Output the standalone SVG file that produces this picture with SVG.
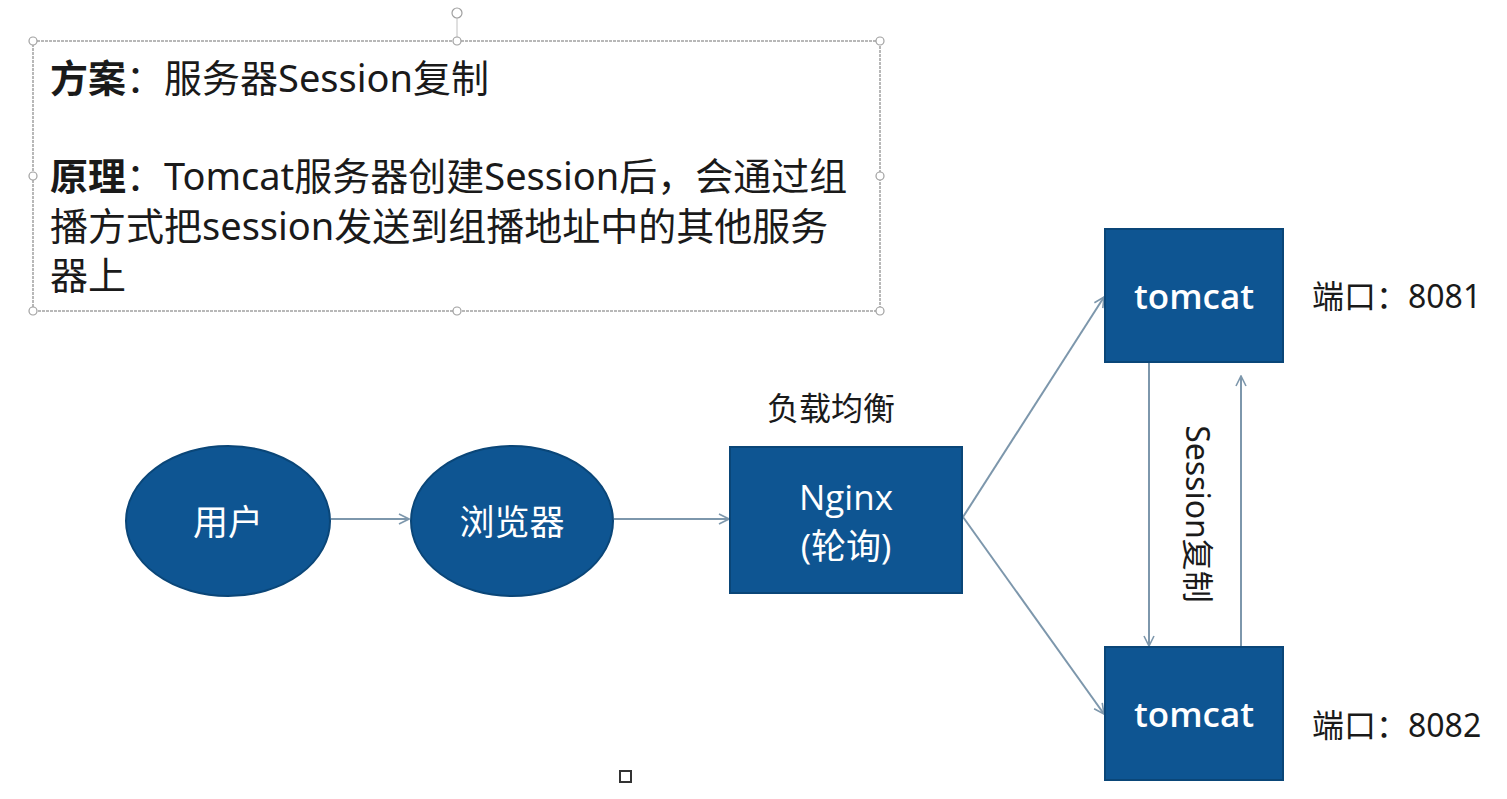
<svg xmlns="http://www.w3.org/2000/svg" width="1507" height="799" viewBox="0 0 1507 799">
<defs>
<style>
.node{fill:#0e5592;stroke:#0a4678;stroke-width:2}
.nt{fill:#ffffff;font-family:"Open Sans","Noto Sans","Noto Sans CJK SC",sans-serif;font-size:35px;text-anchor:middle;dominant-baseline:central}
.tx{fill:#1a1a1a;font-family:"Noto Sans","Noto Sans CJK SC",sans-serif;font-size:38px}
.lbl{fill:#1a1a1a;font-family:"Noto Sans","Noto Sans CJK SC",sans-serif;font-size:32px}
.conn{stroke:#7d97ac;stroke-width:2;fill:none;marker-end:url(#ah)}
.frame{fill:none;stroke:#b8b8b8;stroke-width:2;stroke-dasharray:3 1}
.h{fill:#ffffff;stroke:#a0a0a0;stroke-width:1.2}
</style>
<marker id="ah" viewBox="0 0 12 12" refX="11" refY="6" markerWidth="12" markerHeight="12" markerUnits="userSpaceOnUse" orient="auto">
<path d="M1,1 L11,6 L1,11" fill="none" stroke="#7d97ac" stroke-width="1.6"/>
</marker>
</defs>
<rect width="1507" height="799" fill="#ffffff"/>
<g id="textbox">
<rect class="frame" x="33" y="41" width="847" height="270"/>
<line x1="457" y1="18" x2="457" y2="41" stroke="#c0c0c0" stroke-width="1"/>
<circle class="h" cx="457" cy="13" r="5"/>
<circle class="h" cx="33" cy="41" r="4"/><circle class="h" cx="457" cy="41" r="4"/><circle class="h" cx="880" cy="41" r="4"/>
<circle class="h" cx="33" cy="176" r="4"/><circle class="h" cx="880" cy="176" r="4"/>
<circle class="h" cx="33" cy="311" r="4"/><circle class="h" cx="457" cy="311" r="4"/><circle class="h" cx="880" cy="311" r="4"/>
<text class="tx" x="50" y="92"><tspan font-weight="bold">方案</tspan>：服务器Session复制</text>
<text class="tx" x="50" y="190"><tspan font-weight="bold">原理</tspan>：Tomcat服务器创建Session后，会通过组</text>
<text class="tx" x="50" y="240">播方式把session发送到组播地址中的其他服务</text>
<text class="tx" x="50" y="289">器上</text>
</g>
<g id="connectors">
<line class="conn" x1="331" y1="519" x2="409" y2="519"/>
<line class="conn" x1="614" y1="519" x2="729" y2="519"/>
<line class="conn" x1="963" y1="517" x2="1104" y2="297"/>
<line class="conn" x1="963" y1="517" x2="1104" y2="714"/>
<line class="conn" x1="1149" y1="363" x2="1149" y2="646"/>
<line class="conn" x1="1241" y1="646" x2="1241" y2="376"/>
<text class="lbl" font-size="36" transform="translate(1198,514) rotate(90)" text-anchor="middle" dominant-baseline="central">Session复制</text>
</g>
<g id="user">
<ellipse class="node" cx="228" cy="521" rx="102" ry="75"/>
<text class="nt" x="228" y="521">用户</text>
</g>
<g id="browser">
<ellipse class="node" cx="512" cy="521" rx="101" ry="75"/>
<text class="nt" x="512" y="521">浏览器</text>
</g>
<g id="nginx">
<text class="lbl" x="831" y="407" font-size="34" text-anchor="middle" dominant-baseline="central">负载均衡</text>
<rect class="node" x="730" y="447" width="232" height="146"/>
<text class="nt" x="846" y="496">Nginx</text>
<text class="nt" x="846" y="545">(轮询)</text>
</g>
<g id="tomcat1">
<rect class="node" x="1105" y="229" width="178" height="133"/>
<text class="nt" x="1194" y="295" font-size="32" font-weight="600">tomcat</text>
<text class="lbl" x="1312" y="295" dominant-baseline="central">端口：8081</text>
</g>
<g id="tomcat2">
<rect class="node" x="1105" y="647" width="178" height="133"/>
<text class="nt" x="1194" y="713" font-size="32" font-weight="600">tomcat</text>
<text class="lbl" x="1312" y="724" dominant-baseline="central">端口：8082</text>
</g>
<rect x="620" y="771" width="11" height="11" fill="none" stroke="#333" stroke-width="2"/>
</svg>
